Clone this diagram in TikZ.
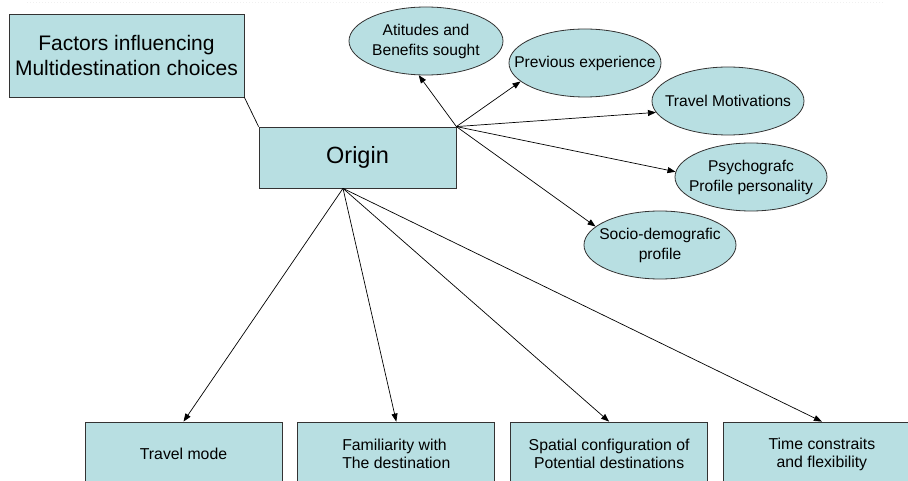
\documentclass[tikz,border=0pt]{standalone}
\usepackage{fontspec}
\setmainfont{Liberation Sans}
\usetikzlibrary{arrows.meta}
\usetikzlibrary{positioning}
\usetikzlibrary{shapes.geometric}
\definecolor{boxfill}{RGB}{184,223,226}

\begin{document}
\begin{tikzpicture}[x=1pt, y=-1pt,
    every node/.style={draw=black!80, line width=0.8pt, fill=boxfill, align=center, inner sep=0pt},
    bigbox/.style={rectangle, font=\fontsize{21}{25}\selectfont},
    factor/.style={ellipse, inner xsep=-20pt, minimum width=152pt, minimum height=68pt, font=\fontsize{15.6}{20}\selectfont},
    lowbox/.style={rectangle, minimum width=197pt, minimum height=64pt, font=\fontsize{15.8}{18}\selectfont},
    every edge/.style={draw, line width=0.7pt, -{Triangle[length=8pt,width=6pt]}}]
    \clip (0,0) rectangle (908,481);
    \draw[gray!12, dotted, line width=1pt] (27,3) -- (883,3);

    \node[bigbox, minimum width=235pt, minimum height=83pt] (title) at (126.5,55.5) {Factors influencing\\Multidestination choices};
    \node[bigbox, minimum width=197pt, minimum height=61pt, font=\fontsize{23.5}{28}\selectfont] (origin) at (357.5,157.5) {Origin};
    \coordinate (hub) at ([xshift=-14.5pt]origin.south);

    \node[factor, minimum width=154pt] (att) at (426,41) {Atitudes and\\Benefits sought};
    \node[factor] (prev) at (585,63) {Previous experience};
    \node[factor] (motiv) at (728,101) {Travel Motivations};
    \node[factor] (psych) at (751,177) {Psychografc\\Profile personality};
    \node[factor] (socio) at (660,245) {Socio-demografic\\profile};

    \node[lowbox] (mode) at (183.5,454) {Travel mode};
    \node[lowbox, align=left, right=15pt of mode] (famil) {Familiarity with\\The destination};
    \node[lowbox, right=15pt of famil] (spat) {Spatial configuration of\\Potential destinations};
    \node[lowbox, right=15pt of spat] (time) {Time constraits\\and flexibility};

    \draw[line width=0.7pt] (title.south east) -- (origin.north west);
    \path (origin.north east) edge (att.258) edge (prev.196) edge (motiv.189)
        edge (psych.176) edge (socio.164);
    \path (hub) edge (mode.north) edge (famil.north) edge (spat.north) edge (time.north);
\end{tikzpicture}
\end{document}
